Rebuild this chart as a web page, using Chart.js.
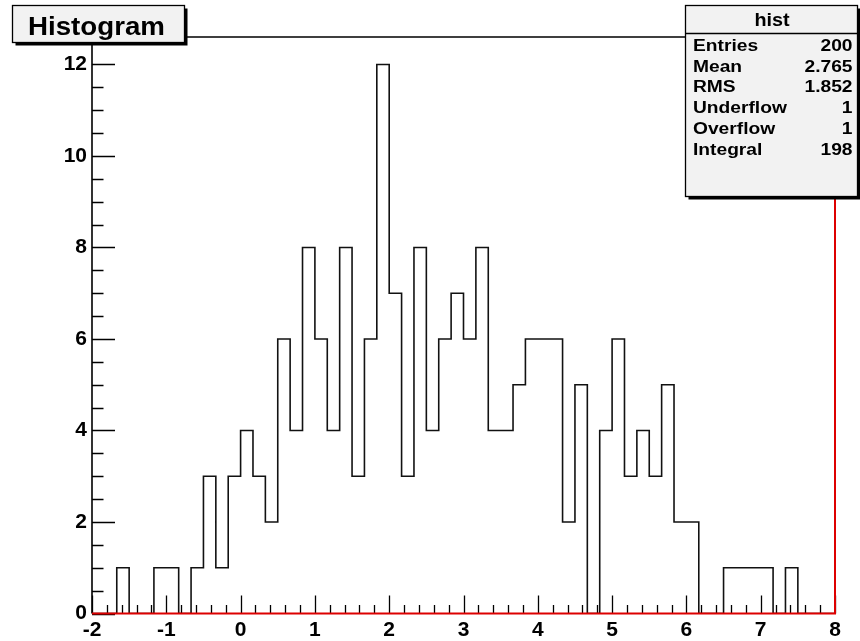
<!DOCTYPE html>
<html>
<head>
<meta charset="utf-8">
<script src="https://cdn.jsdelivr.net/npm/chart.js@4.4.1/dist/chart.umd.min.js"></script>
<style>
  html, body { margin: 0; padding: 0; background: #ffffff; }
  #c { display: block; }
</style>
</head>
<body>
<canvas id="c" width="860" height="641"></canvas>
<script>
// ---- data ----
const histTitle = 'Histogram';
const histName = 'hist';
const xMin = -2;
const xMax = 8;
const binCounts = [
  0, 0, 1, 0, 0, 1, 1, 0, 1, 3,
  1, 3, 4, 3, 2, 6, 4, 8, 6, 4,
  8, 3, 6, 12, 7, 3, 8, 4, 6, 7,
  6, 8, 4, 4, 5, 6, 6, 6, 2, 5,
  0, 4, 6, 3, 4, 3, 5, 2, 2, 0,
  0, 1, 1, 1, 1, 0, 1, 0, 0, 0
];
const yMax = 12.6;
const xTickValues = [-2, -1, 0, 1, 2, 3, 4, 5, 6, 7, 8];
const yTickValues = [0, 2, 4, 6, 8, 10, 12];
const statsLabels = ['Entries', 'Mean', 'RMS', 'Underflow', 'Overflow', 'Integral'];
const statsValues = ['200', '2.765', '1.852', '1', '1', '198'];

// ---- build step outline points from the bins ----
const binWidth = (xMax - xMin) / binCounts.length;
const points = binCounts.map((v, i) => ({ x: xMin + i * binWidth, y: v }));
points.push({ x: xMax, y: binCounts[binCounts.length - 1] });

const FONT = 'Liberation Sans';

function stretchText(ctx, text, x, y, sx, align) {
  ctx.save();
  ctx.translate(x, y);
  ctx.scale(sx, 1);
  ctx.textAlign = align;
  ctx.fillText(text, 0, 0);
  ctx.restore();
}

const rootDecor = {
  id: 'rootDecor',
  afterDraw(chart) {
    const ctx = chart.ctx;
    const xs = chart.scales.x, ys = chart.scales.y;
    const a = chart.chartArea;
    ctx.save();
    // inner ticks
    ctx.strokeStyle = '#000';
    ctx.lineWidth = 1.3;
    ctx.beginPath();
    for (let v = 0; v <= yMax + 1e-9; v += 0.5) {
      const y = Math.round(ys.getPixelForValue(v)) + 0.5;
      const major = Math.abs(v / 2 - Math.round(v / 2)) < 1e-6;
      ctx.moveTo(a.left, y);
      ctx.lineTo(a.left + (major ? 23 : 11.5), y);
    }
    for (let k = 0; k <= 50; k++) {
      const v = xMin + k * 0.2;
      const x = Math.round(xs.getPixelForValue(v)) + 0.5;
      const major = k % 5 === 0;
      ctx.moveTo(x, a.bottom);
      ctx.lineTo(x, a.bottom - (major ? 18 : 8.5));
    }
    ctx.stroke();

    // frame: left + top black
    ctx.lineWidth = 1.6;
    ctx.strokeStyle = '#000';
    ctx.beginPath();
    ctx.moveTo(a.left, a.bottom);
    ctx.lineTo(a.left, a.top);
    ctx.lineTo(a.right, a.top);
    ctx.stroke();
    // frame: bottom + right red
    ctx.lineWidth = 2;
    ctx.strokeStyle = '#dd0000';
    ctx.beginPath();
    ctx.moveTo(a.left, a.bottom);
    ctx.lineTo(a.right, a.bottom);
    ctx.lineTo(a.right, a.top);
    ctx.stroke();

    const drawBox = (x0, y0, x1, y1) => {
      ctx.fillStyle = '#000';
      ctx.fillRect(x0 + 3, y0 + 3, x1 - x0, y1 - y0);
      ctx.fillStyle = '#f2f2f2';
      ctx.fillRect(x0, y0, x1 - x0, y1 - y0);
      ctx.lineWidth = 1.3;
      ctx.strokeStyle = '#000';
      ctx.strokeRect(x0, y0, x1 - x0, y1 - y0);
    };
    // title box
    drawBox(12.5, 5.5, 184.5, 42.5);
    ctx.fillStyle = '#000';
    ctx.textBaseline = 'alphabetic';
    ctx.font = 'bold 26px "' + FONT + '"';
    stretchText(ctx, histTitle, 28, 35, 1.065, 'left');

    // stats box
    drawBox(685.5, 5.5, 857.5, 196.5);
    ctx.beginPath();
    ctx.moveTo(685.5, 33.5);
    ctx.lineTo(857.5, 33.5);
    ctx.stroke();
    ctx.fillStyle = '#000';
    ctx.font = 'bold 18px "' + FONT + '"';
    stretchText(ctx, histName, 772, 26, 1.1, 'center');
    ctx.font = 'bold 16px "' + FONT + '"';
    statsLabels.forEach((lab, i) => {
      const yb = 51 + i * 20.7;
      stretchText(ctx, lab, 693, yb, 1.2, 'left');
      stretchText(ctx, statsValues[i], 852.5, yb, 1.2, 'right');
    });
    ctx.restore();
  }
};

new Chart(document.getElementById('c'), {
  type: 'line',
  data: {
    datasets: [{
      data: points,
      stepped: true,
      borderColor: '#111',
      borderWidth: 1.6,
      pointRadius: 0,
      fill: false,
      tension: 0
    }]
  },
  options: {
    responsive: false,
    animation: false,
    devicePixelRatio: 1,
    layout: { padding: { top: 37, right: 25, left: 0, bottom: 0 } },
    plugins: { legend: { display: false }, tooltip: { enabled: false }, title: { display: false } },
    scales: {
      x: {
        type: 'linear',
        min: xMin,
        max: xMax,
        grid: { display: false, drawTicks: false },
        border: { display: false },
        afterBuildTicks(s) { s.ticks = xTickValues.map(v => ({ value: v })); },
        afterFit(s) { s.height = 27.5; },
        ticks: {
          color: '#000',
          padding: 4,
          maxRotation: 0,
          autoSkip: false,
          font: { family: FONT, weight: 'bold', size: 21 }
        }
      },
      y: {
        type: 'linear',
        min: 0,
        max: yMax,
        grid: { display: false, drawTicks: false },
        border: { display: false },
        afterBuildTicks(s) { s.ticks = yTickValues.map(v => ({ value: v })); },
        afterFit(s) { s.width = 92; },
        ticks: {
          color: '#000',
          padding: 5,
          autoSkip: false,
          font: { family: FONT, weight: 'bold', size: 21 }
        }
      }
    }
  },
  plugins: [rootDecor]
});
</script>
</body>
</html>
